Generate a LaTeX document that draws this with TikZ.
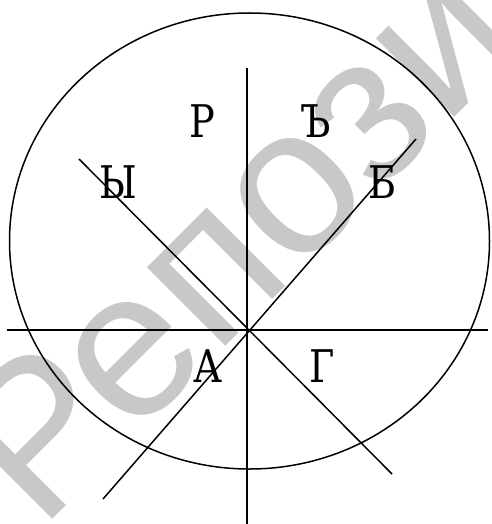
\documentclass[tikz,border=0pt]{standalone}
\usepackage{fontspec}
\setmainfont{DejaVu Serif}
\newfontfamily\sectorfont[FakeStretch=0.85]{DejaVu Serif}
\newfontfamily\wmfont{Liberation Sans}
\definecolor{wmgray}{RGB}{200,200,200}
\begin{document}
\begin{tikzpicture}[x=1pt,y=-1pt,
  axis/.style={line width=1.5pt},
  sector/.style={anchor=base,inner sep=0pt,font=\sectorfont\fontsize{45}{45}\selectfont}]
\useasboundingbox (0,0) rectangle (491,524);
% watermark
\begin{scope}
\clip (0,0) rectangle (491,524);
\node[anchor=base west,inner sep=0pt,rotate=45,text=wmgray,
  font=\wmfont\fontsize{210}{210}\selectfont] (wm) at (40,532) {Репозиторий};
\end{scope}

\draw[axis] (249.5,241) ellipse (240 and 228);

\coordinate (o) at (247,330);
\coordinate (hl) at (7,330);
\coordinate (hr) at (488,330);
\coordinate (vt) at (247,68);
\coordinate (vb) at (247,524);
\coordinate (d1a) at (79,159);
\coordinate (d1b) at (392,474);
\coordinate (d2a) at (416,139);
\coordinate (d2b) at (103,499);

\draw[axis] (hl) -- (hr);
\draw[axis] (vt) -- (vb);
\draw[axis] (d1a) -- (d1b);
\draw[axis] (d2a) -- (d2b);

\node[sector] (er) at (202,137) {Р};
\node[sector] (hard) at (316,137) {Ъ};
\node[sector] (yery) at (118,198) {Ы};
\node[sector] (be) at (383,198) {Б};
\node[sector] (a) at (208,382) {А};
\node[sector] (ghe) at (322,382) {Г};
\end{tikzpicture}
\end{document}
